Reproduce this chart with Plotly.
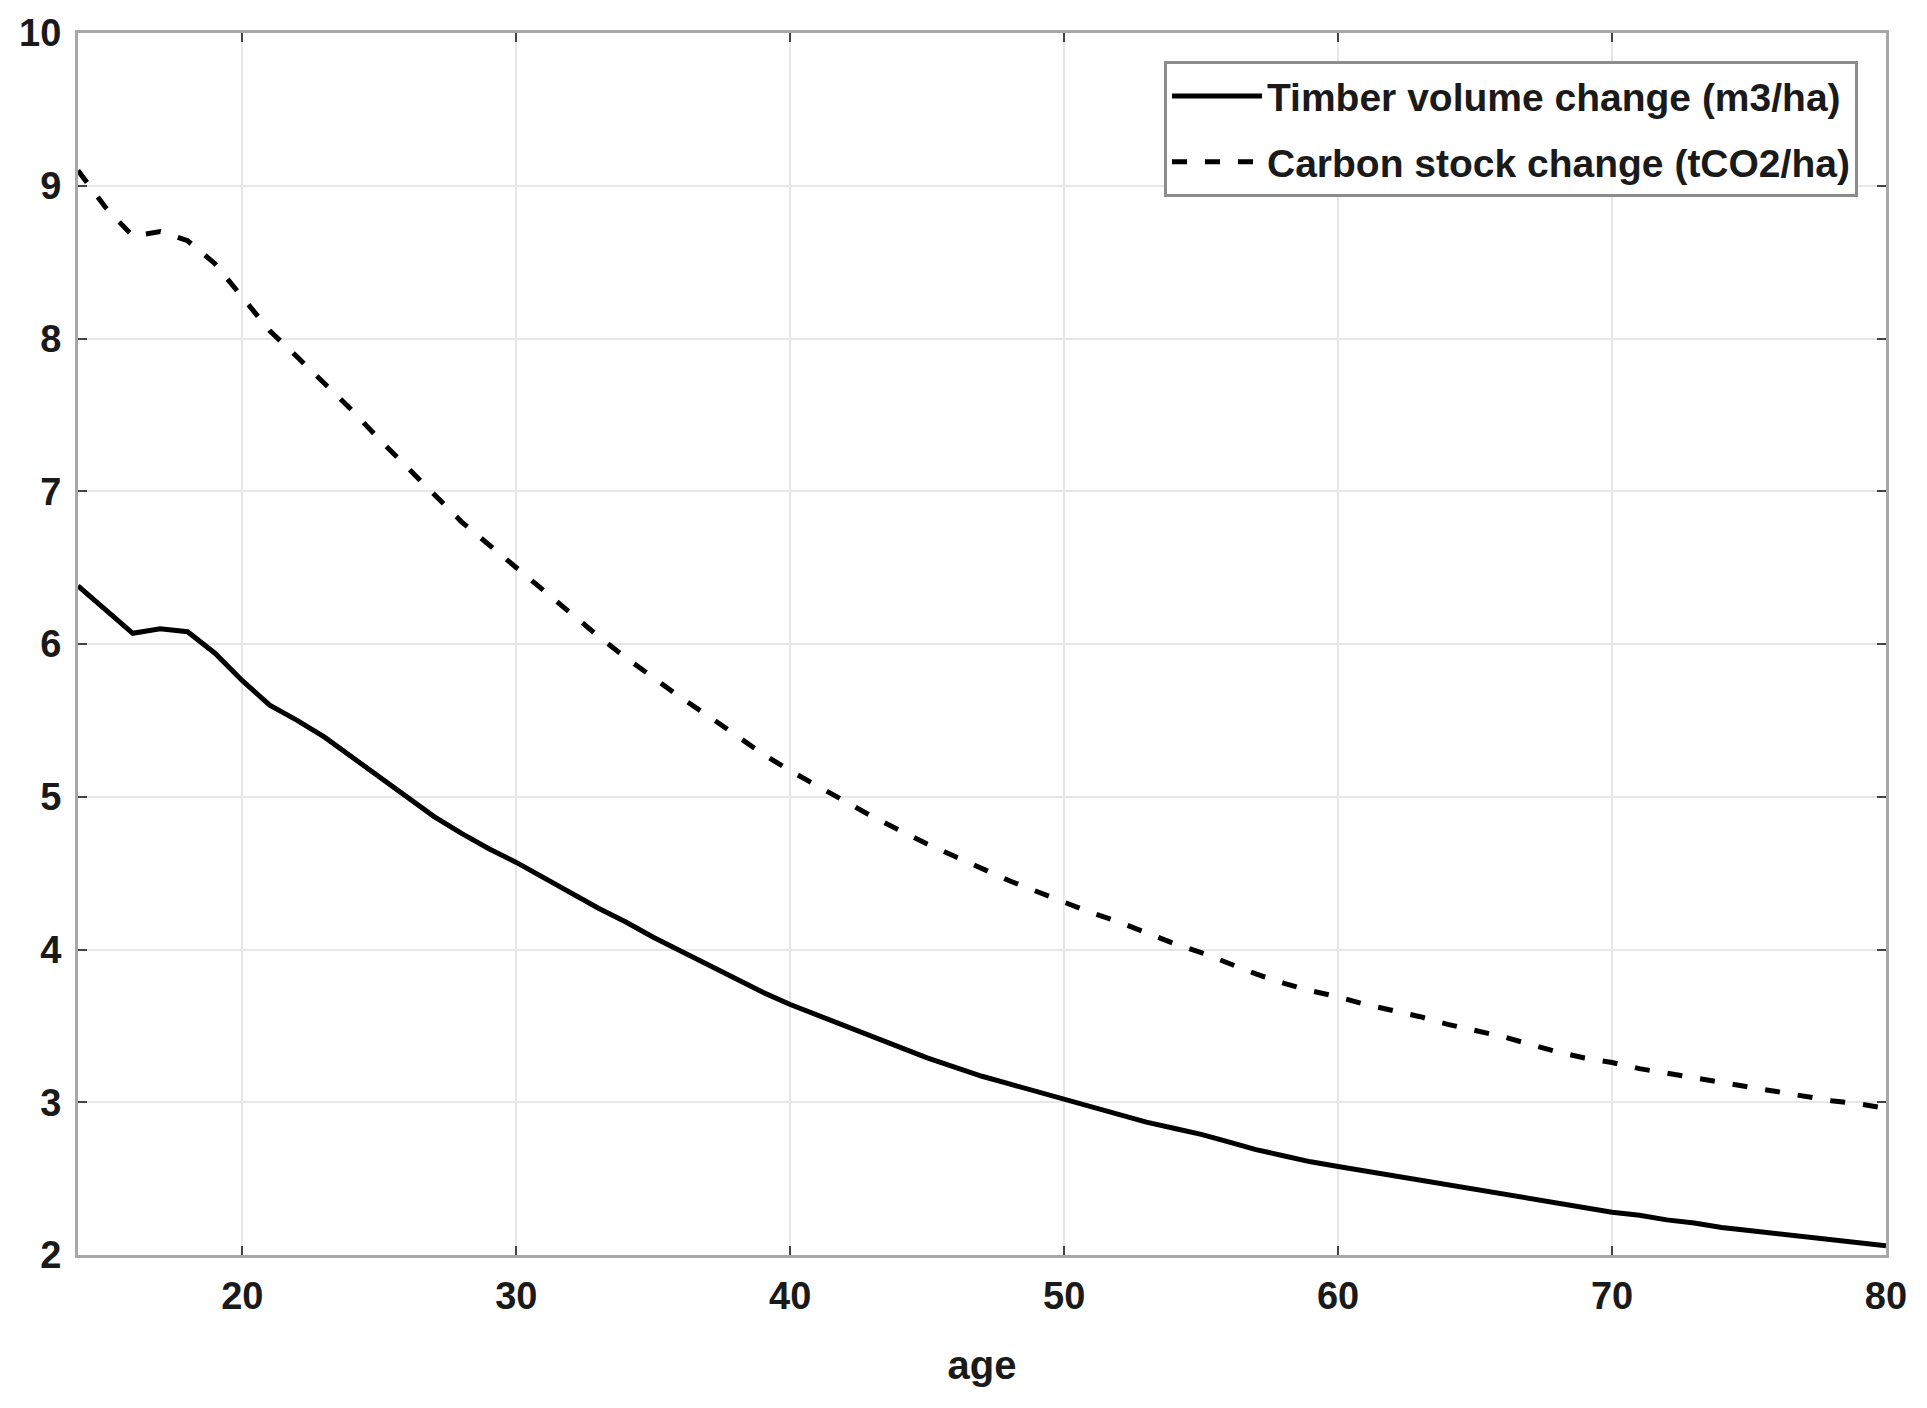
import plotly.graph_objects as go

age = list(range(14, 81))

timber = [6.38, 6.23, 6.07, 6.10, 6.08, 5.94, 5.76, 5.60, 5.50, 5.39,
          5.26, 5.12, 4.99, 4.87, 4.76, 4.66, 4.57, 4.47, 4.37, 4.27,
          4.18, 4.08, 3.99, 3.90, 3.81, 3.72, 3.64, 3.57, 3.50, 3.43,
          3.36, 3.29, 3.23, 3.17, 3.12, 3.07, 3.02, 2.97, 2.92, 2.87,
          2.83, 2.79, 2.74, 2.69, 2.65, 2.61, 2.58, 2.55, 2.52, 2.49,
          2.46, 2.43, 2.40, 2.37, 2.34, 2.31, 2.28, 2.26, 2.23, 2.21,
          2.18, 2.16, 2.14, 2.12, 2.10, 2.08, 2.06]

carbon = [9.10, 8.86, 8.67, 8.70, 8.64, 8.49, 8.27, 8.05, 7.88, 7.71,
          7.53, 7.34, 7.16, 6.97, 6.80, 6.65, 6.50, 6.34, 6.19, 6.05,
          5.91, 5.78, 5.65, 5.53, 5.40, 5.28, 5.17, 5.07, 4.97, 4.87,
          4.78, 4.69, 4.61, 4.53, 4.45, 4.38, 4.31, 4.24, 4.18, 4.11,
          4.04, 3.98, 3.91, 3.84, 3.78, 3.73, 3.69, 3.64, 3.60, 3.56,
          3.51, 3.47, 3.43, 3.38, 3.33, 3.29, 3.26, 3.22, 3.19, 3.16,
          3.13, 3.10, 3.07, 3.04, 3.01, 2.99, 2.96]

series_names = ["Timber volume change (m3/ha)", "Carbon stock change (tCO2/ha)"]
x_ticks = [20, 30, 40, 50, 60, 70, 80]
y_ticks = [2, 3, 4, 5, 6, 7, 8, 9, 10]

FONT = "Liberation Sans, Arial, sans-serif"
TXT = "#1a1a1a"

fig = go.Figure()
fig.add_trace(go.Scatter(x=age, y=timber, mode="lines", name=series_names[0],
                         legendgroup="a",
                         line=dict(color="black", width=5)))
fig.add_trace(go.Scatter(x=age, y=carbon, mode="lines", name=series_names[1],
                         legendgroup="b",
                         line=dict(color="black", width=5, dash="15px,18px")))

axis_common = dict(
    showline=True, linecolor="#a8a8a8", linewidth=3, mirror="ticks",
    showgrid=True, gridcolor="#e6e6e6", gridwidth=2,
    ticks="inside", ticklen=9, tickwidth=2, tickcolor="#444444",
    zeroline=False, automargin=False,
    tickfont=dict(family=FONT, size=38, color=TXT, weight="bold"),
)

fig.update_xaxes(range=[14, 80], tickvals=x_ticks,
                 title=dict(text="age", font=dict(family=FONT, size=40, color=TXT, weight="bold"),
                            standoff=36),
                 ticklabelstandoff=5, **axis_common)
fig.update_yaxes(range=[2, 10], tickvals=y_ticks, ticklabelstandoff=6, **axis_common)

fig.update_layout(
    width=1927, height=1408,
    margin=dict(l=70, r=49, t=25, b=161),
    paper_bgcolor="white", plot_bgcolor="white",
    font=dict(family=FONT, size=38, color=TXT, weight="bold"),
    showlegend=True,
    legend=dict(x=0.9845, y=0.977, xanchor="right", yanchor="top",
                bgcolor="white", bordercolor="#8c8c8c", borderwidth=3,
                font=dict(family=FONT, size=39, color=TXT, weight="bold"),
                tracegroupgap=12, itemwidth=90),
)

fig.write_html("out.html")
